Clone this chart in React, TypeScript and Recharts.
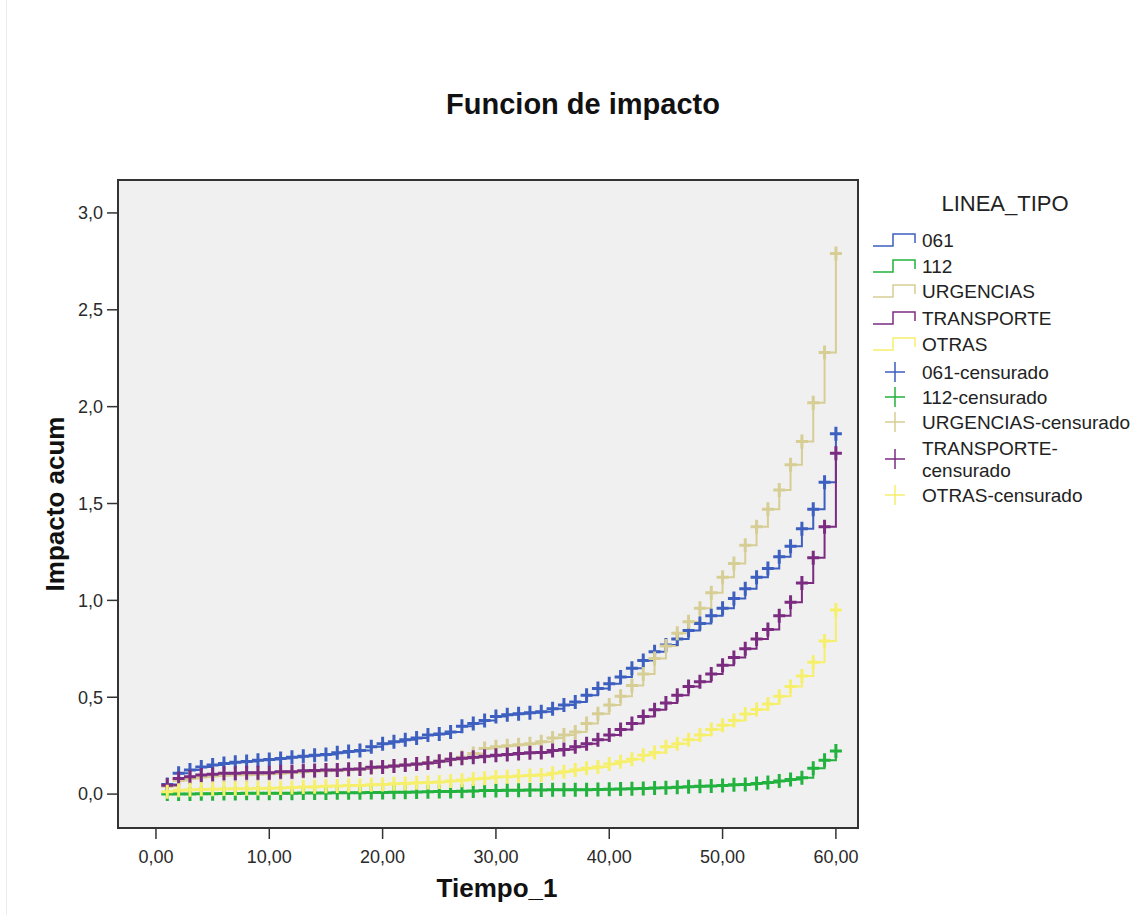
import { LineChart, Line, XAxis, YAxis, CartesianGrid } from 'recharts';

const times = [
  1, 2, 3, 4, 5, 6, 7, 8, 9, 10, 11, 12, 13, 14, 15, 16, 17, 18, 19, 20,
  21, 22, 23, 24, 25, 26, 27, 28, 29, 30, 31, 32, 33, 34, 35, 36, 37, 38, 39, 40,
  41, 42, 43, 44, 45, 46, 47, 48, 49, 50, 51, 52, 53, 54, 55, 56, 57, 58, 59, 60,
];

const s061 = [
  0.05, 0.107, 0.124, 0.14, 0.15, 0.158, 0.165, 0.168, 0.175, 0.178,
  0.184, 0.19, 0.195, 0.2, 0.205, 0.213, 0.22, 0.225, 0.245, 0.26,
  0.27, 0.28, 0.29, 0.305, 0.31, 0.32, 0.35, 0.365, 0.38, 0.4,
  0.41, 0.415, 0.42, 0.425, 0.44, 0.46, 0.476, 0.51, 0.545, 0.57,
  0.605, 0.65, 0.69, 0.735, 0.77, 0.8, 0.845, 0.88, 0.92, 0.96,
  1.01, 1.06, 1.12, 1.165, 1.225, 1.28, 1.37, 1.47, 1.61, 1.86,
];

const s112 = [
  0, 0, 0, 0.002, 0.002, 0.003, 0.003, 0.004, 0.004, 0.005,
  0.005, 0.005, 0.006, 0.006, 0.006, 0.007, 0.007, 0.007, 0.008, 0.008,
  0.009, 0.01, 0.011, 0.012, 0.013, 0.014, 0.015, 0.016, 0.018, 0.019,
  0.02, 0.02, 0.021, 0.021, 0.022, 0.022, 0.023, 0.023, 0.024, 0.025,
  0.026, 0.027, 0.029, 0.031, 0.033, 0.035, 0.038, 0.04, 0.042, 0.045,
  0.048, 0.05, 0.055, 0.06, 0.068, 0.075, 0.085, 0.133, 0.175, 0.222,
];

const sUrgencias = [
  0.04, 0.07, 0.08, 0.088, 0.093, 0.097, 0.1, 0.1, 0.103, 0.105,
  0.108, 0.112, 0.115, 0.118, 0.12, 0.123, 0.126, 0.13, 0.135, 0.14,
  0.145, 0.15, 0.155, 0.162, 0.17, 0.18, 0.19, 0.21, 0.235, 0.245,
  0.25, 0.255, 0.26, 0.27, 0.29, 0.305, 0.32, 0.365, 0.415, 0.46,
  0.505, 0.56, 0.62, 0.7, 0.765, 0.83, 0.89, 0.96, 1.04, 1.12,
  1.19, 1.285, 1.38, 1.47, 1.57, 1.7, 1.82, 2.02, 2.28, 2.79,
];

const sTransporte = [
  0.046, 0.08, 0.089, 0.098, 0.103, 0.107, 0.107, 0.11, 0.11, 0.11,
  0.115, 0.115, 0.12, 0.122, 0.124, 0.125, 0.128, 0.13, 0.138, 0.14,
  0.145, 0.15, 0.155, 0.16, 0.17, 0.18, 0.185, 0.19, 0.195, 0.2,
  0.205, 0.21, 0.213, 0.215, 0.225, 0.23, 0.245, 0.26, 0.28, 0.305,
  0.334, 0.365, 0.4, 0.435, 0.47, 0.51, 0.555, 0.58, 0.62, 0.665,
  0.705, 0.75, 0.8, 0.85, 0.92, 0.99, 1.09, 1.22, 1.38, 1.76,
];

const sOtras = [
  0.012, 0.02, 0.022, 0.024, 0.025, 0.026, 0.027, 0.028, 0.029, 0.03,
  0.032, 0.034, 0.036, 0.038, 0.04, 0.042, 0.044, 0.045, 0.048, 0.05,
  0.053, 0.055, 0.058, 0.06, 0.063, 0.068, 0.072, 0.078, 0.082, 0.088,
  0.09, 0.093, 0.096, 0.098, 0.107, 0.115, 0.124, 0.133, 0.14, 0.155,
  0.167, 0.18, 0.2, 0.215, 0.245, 0.26, 0.28, 0.305, 0.334, 0.356,
  0.38, 0.413, 0.437, 0.465, 0.505, 0.555, 0.61, 0.68, 0.79, 0.95,
];

const seriesNames = ['061', '112', 'URGENCIAS', 'TRANSPORTE', 'OTRAS'];
const censoredNames = ['061-censurado', '112-censurado', 'URGENCIAS-censurado', 'TRANSPORTE-\ncensurado', 'OTRAS-censurado'];
const colors = ['#3d5fbf', '#22b23e', '#d6ce94', '#7b2c80', '#f6ef6c'];
const values = [s061, s112, sUrgencias, sTransporte, sOtras];

const xTicks = [0, 10, 20, 30, 40, 50, 60];
const yTicks = [0, 0.5, 1, 1.5, 2, 2.5, 3];

const FONT = '"Liberation Sans", Arial, sans-serif';

const makeCross = (color: string) => (props: any) => {
  const { cx, cy, index } = props;
  if (cx == null || cy == null) return <g key={index} />;
  return (
    <path
      key={index}
      d={`M${cx - 6},${cy}h12M${cx},${cy - 7}v14`}
      stroke={color}
      strokeWidth={3}
      fill="none"
    />
  );
};

const fmtX = (v: number) => v.toFixed(2).replace('.', ',');
const fmtY = (v: number) => v.toFixed(1).replace('.', ',');

const legendLineY = [240, 266, 291, 318, 344];
const legendCrossY = [372, 397, 422, 459, 495];

export default function App() {
  return (
    <div style={{ position: 'absolute', left: 0, top: 0, width: 1136, height: 915, background: '#fff', fontFamily: FONT }}>
      <div style={{ position: 'absolute', left: 6, top: 0, width: 1, height: 915, background: '#ececec' }} />
      <div style={{ position: 'absolute', left: 0, top: 0 }}>
        <LineChart width={1136} height={915} margin={{ top: 180, right: 278, bottom: 57, left: 58 }}>
          <CartesianGrid fill="#f0f0f0" stroke="none" horizontal={false} vertical={false} />
          <XAxis
            type="number"
            dataKey="t"
            domain={[-3.35, 61.95]}
            ticks={xTicks}
            allowDataOverflow
            tickFormatter={fmtX}
            height={30}
            axisLine={false}
            tickSize={11}
            tickMargin={11}
            tickLine={{ stroke: '#333', strokeWidth: 1.5 }}
            tick={{ fill: '#2a2a2a', fontSize: 18, fontFamily: FONT }}
          />
          <YAxis
            type="number"
            domain={[-0.175, 3.17]}
            ticks={yTicks}
            allowDataOverflow
            tickFormatter={fmtY}
            width={60}
            axisLine={false}
            tickSize={11}
            tickMargin={4}
            tickLine={{ stroke: '#333', strokeWidth: 1.5 }}
            tick={{ fill: '#2a2a2a', fontSize: 18, fontFamily: FONT }}
          />
          {values.map((vals, i) => (
            <Line
              key={seriesNames[i]}
              data={times.map((t, j) => ({ t, v: vals[j] }))}
              dataKey="v"
              type="stepAfter"
              stroke={colors[i]}
              strokeWidth={2}
              dot={makeCross(colors[i])}
              activeDot={false}
              isAnimationActive={false}
              name={seriesNames[i]}
            />
          ))}
        </LineChart>
      </div>
      <div
        style={{
          position: 'absolute',
          left: 117,
          top: 179,
          width: 742,
          height: 650,
          border: '2px solid #333',
          boxSizing: 'border-box',
          pointerEvents: 'none',
        }}
      />
      <svg width={1136} height={915} style={{ position: 'absolute', left: 0, top: 0, pointerEvents: 'none' }}>
        <text x={583} y={114} textAnchor="middle" fontSize={29} fontWeight="bold" fill="#111" fontFamily={FONT}>
          Funcion de impacto
        </text>
        <text
          transform="translate(64,504) rotate(-90)"
          textAnchor="middle"
          fontSize={26}
          fontWeight="bold"
          fill="#111"
          fontFamily={FONT}
        >
          Impacto acum
        </text>
        <text x={497} y={897} textAnchor="middle" fontSize={26} fontWeight="bold" fill="#111" fontFamily={FONT}>
          Tiempo_1
        </text>
        <text x={1005} y={211} textAnchor="middle" fontSize={22} fill="#222" fontFamily={FONT}>
          LINEA_TIPO
        </text>
        {seriesNames.map((n, i) => {
          const y = legendLineY[i];
          return (
            <g key={n}>
              <path
                d={`M873,${y + 6}H893V${y - 6}H915V${y + 3}`}
                stroke={colors[i]}
                strokeWidth={1.5}
                fill="none"
              />
              <text x={922} y={y} dominantBaseline="central" fontSize={19} fill="#222" fontFamily={FONT}>
                {n}
              </text>
            </g>
          );
        })}
        {censoredNames.map((n, i) => {
          const y = legendCrossY[i];
          const lines = n.split('\n');
          return (
            <g key={n}>
              <path d={`M885,${y}h20M895,${y - 10}v20`} stroke={colors[i]} strokeWidth={1.5} fill="none" />
              {lines.map((ln, k) => (
                <text
                  key={k}
                  x={922}
                  y={y + (k - (lines.length - 1) / 2) * 22}
                  dominantBaseline="central"
                  fontSize={19}
                  fill="#222"
                  fontFamily={FONT}
                >
                  {ln}
                </text>
              ))}
            </g>
          );
        })}
      </svg>
    </div>
  );
}
